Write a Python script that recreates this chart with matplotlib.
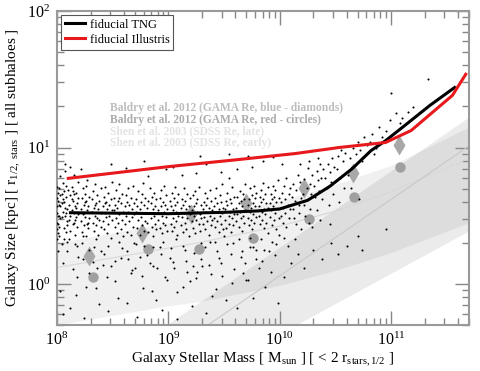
import numpy as np
import matplotlib
matplotlib.use("Agg")
import matplotlib.pyplot as plt

# all values, in log10(Msun) and log10(kpc)

# median size relations of the two fiducial runs
tng_logm = [8.12, 8.5, 9.0, 9.5, 9.8, 10.0, 10.25, 10.45, 10.65, 10.82, 10.95, 11.12, 11.35, 11.57]
tng_logr = [0.522, 0.519, 0.515, 0.525, 0.535, 0.55, 0.613, 0.716, 0.845, 0.978, 1.05, 1.16, 1.31, 1.44]

ill_logm = [8.10, 9.0, 9.63, 10.14, 10.53, 10.95, 11.18, 11.55, 11.67]
ill_logr = [0.774, 0.86, 0.912, 0.956, 1.0, 1.037, 1.125, 1.382, 1.537]

# Baldry et al. 2012
baldry_blue_logm = [8.29, 8.76, 9.20, 9.70, 10.22, 10.66, 11.07]
baldry_blue_logr = [0.206, 0.375, 0.515, 0.596, 0.70, 0.816, 1.015]
baldry_red_logm = [8.32, 8.82, 9.27, 9.76, 10.26, 10.67, 11.08]
baldry_red_logr = [0.051, 0.257, 0.257, 0.338, 0.478, 0.64, 0.86]

# Shen et al. 2003, late and early types (line + shaded band)
shen_late_logm = [8.0, 9.0, 9.28, 10.0, 10.5, 11.0, 11.7]
shen_late_logr = [0.12, 0.263, 0.304, 0.424, 0.534, 0.677, 0.921]
shen_late_up = [0.30, 0.45, 0.49, 0.61, 0.73, 0.87, 1.15]
shen_late_lo = [-0.30, -0.16, -0.13, -0.01, 0.10, 0.23, 0.45]

shen_early_logm = [9.0, 10.125, 11.7]
shen_early_logr = [-0.50, 0.13, 1.012]
shen_early_up = [-0.29, 0.34, 1.225]
shen_early_lo = [-0.82, -0.31, 0.39]

# individual subhaloes (log M in 0.01 dex, log r in 0.01 dex)
subhalo_pts = """
800 52 801 61 801 44 802 70 802 35 803 57 803 48 804 66 804 29 805 53 805 74 806 41 806 60 807 50
807 83 808 38 808 64 809 55 809 46 810 69 800 63 801 24 802 58 803 79 804 49 805 62 806 33 807 56
808 72 809 43 800 45 802 50 804 59 806 68 808 52 805 15 803 -5 807 88 809 31 801 37 800 57 800 40
801 67 801 50 800 71 800 33 802 42 803 65
811 58 811 47 812 65 812 39 813 54 813 71 814 44 814 61 815 52 815 80 816 36 816 57 817 49 817 67
818 42 818 59 819 75 819 51 811 33 813 62 815 45 817 56 819 63 812 50 814 68 816 47 818 28 814 11
817 -8 819 20 812 86 815 66
821 55 821 46 822 63 822 38 823 70 823 51 824 43 824 58 825 66 825 49 826 35 826 61 827 54 827 76
828 41 828 57 829 48 829 64 822 30 824 52 826 72 828 45 823 18 826 -2 829 25 821 84 825 60 827 44
831 53 831 62 832 45 832 68 833 39 833 56 834 50 834 73 835 43 835 59 836 65 836 48 837 36 837 55
838 61 838 47 839 70 839 52 833 27 836 12 838 -15 831 80 835 33 839 42 834 58
841 57 841 46 842 64 842 40 843 52 843 71 844 49 844 60 845 37 845 55 846 67 846 44 847 58 847 50
848 34 848 62 849 47 849 75 842 22 845 5 848 88 846 28 843 59 849 54
851 54 851 63 852 42 852 58 853 69 853 48 854 37 854 56 855 61 855 45 856 73 856 51 857 40 857 59
858 47 858 66 859 53 859 35 852 17 855 -10 858 26 854 82 856 63
861 57 861 44 862 65 862 50 863 38 863 60 864 53 864 70 865 46 865 58 866 36 866 63 867 49 867 55
868 72 868 42 869 59 869 51 863 24 866 8 869 30 862 85
871 53 871 62 872 41 872 57 873 68 873 47 874 55 874 36 875 60 875 49 876 66 876 43 877 52 877 74
878 39 878 58 879 46 879 63 874 20 877 -3 871 29 878 90
881 56 881 45 882 61 882 38 883 52 883 70 884 48 884 59 885 42 885 64 886 55 886 35 887 67 887 50
888 44 888 57 889 62 889 40 883 15 886 27 889 -12 882 79
891 54 891 47 892 63 892 41 893 57 893 69 894 50 894 37 895 60 895 45 896 53 896 72 897 43 897 58
898 49 898 65 899 39 899 55 893 22 897 5 895 31 898 84
901 52 901 61 902 44 902 57 903 67 903 39 904 54 904 48 905 63 905 42 906 58 906 71 907 46 907 53
908 36 908 60 909 50 909 66 902 26 905 12 908 -6 904 86
911 56 911 43 912 62 912 49 913 38 913 58 914 70 914 52 915 45 915 61 916 55 916 40 917 66 917 48
918 57 918 35 919 63 919 51 913 28 916 17 919 2 912 80
921 54 921 46 922 65 922 41 923 57 923 50 924 68 924 37 925 59 925 47 926 53 926 62 927 44 927 71
928 51 928 39 929 58 929 48 923 23 926 9 929 30 925 81 928 94
931 55 931 44 932 60 932 49 933 67 933 40 934 53 934 58 935 46 935 63 936 36 936 56 937 50 937 69
938 43 938 61 939 54 939 47 933 27 936 14 939 -9 934 88
941 57 941 48 942 63 942 42 943 53 943 70 944 46 944 59 945 38 945 55 946 65 946 50 947 44 947 60
948 52 948 73 949 40 949 56 942 31 945 19 948 6 947 82
951 55 951 47 952 61 952 41 953 58 953 67 954 50 954 44 955 62 955 53 956 38 956 59 957 71 957 48
958 55 958 43 959 64 959 51 953 29 956 22 959 11 954 78 954 95
961 56 961 46 962 64 962 51 963 42 963 59 964 68 964 53 965 48 965 61 966 39 966 57 967 66 967 50
968 45 968 62 969 54 969 73 963 33 966 24 969 15 962 84
971 58 971 48 972 62 972 43 973 53 973 70 974 56 974 47 975 65 975 40 976 59 976 51 977 72 977 45
978 57 978 63 979 49 979 67 973 34 976 27 979 18 975 86 971 94
981 57 981 50 982 64 982 44 983 60 983 69 984 53 984 47 985 62 985 74 986 55 986 41 987 66 987 51
988 59 988 45 989 71 989 56 983 33 986 25 989 37 985 90
991 59 991 49 992 66 992 54 993 43 993 62 994 72 994 57 995 47 995 64 996 52 996 69 997 40 997 60
998 55 998 76 999 48 999 63 993 31 996 21 999 36 994 93
1001 60 1001 50 1002 67 1003 56 1003 45 1004 72 1005 62 1005 52 1006 42 1006 78 1007 58 1008 66
1008 48 1009 55 1009 70 1004 34 1007 28 1002 88
1011 64 1012 55 1012 73 1013 48 1014 61 1015 69 1015 44 1016 80 1017 58 1017 52 1018 75 1019 63
1019 40 1014 33 1018 88
1021 66 1022 58 1022 77 1023 50 1024 70 1025 62 1025 85 1026 45 1027 73 1027 55 1028 66 1029 80
1029 42 1026 90
1031 72 1032 64 1033 83 1033 54 1034 76 1035 68 1036 88 1036 47 1037 78 1038 62 1039 84 1034 92
1041 78 1042 70 1043 88 1044 58 1045 82 1046 75 1047 92 1048 66 1049 86 1045 44
1051 84 1052 94 1054 78 1055 98 1057 90 1058 70 1059 96 1053 60
1061 80 1063 92 1065 86 1066 100 1068 95 1070 104 1072 98 1074 90 1076 108 1078 102 1064 70 1071 62
1081 104 1083 110 1086 100 1089 115 1092 108 1095 112 1099 120 1104 125 1108 118 1110 122 1115 126
1120 130 1085 95 1100 140 1133 150 1095 40 1074 25 1070 35 970 3
805 -22 812 -18 818 5 824 -25 829 8 835 -3 841 14 846 -20 852 2 857 19 863 -14 867 10 872 -24
876 6 881 21 885 -5 890 12 894 -19 899 3 904 16 908 -26 913 -2 917 9 921 -16 925 4 930 13 934 -21
938 7 943 -4 947 15 952 -12 957 1 962 -18 967 8 971 3 976 -10 981 12 987 -2 992 9 998 -14 1004 5
1010 15 1016 22 1022 12 1030 25 1038 18 1046 30 1052 22 1060 28
809 24 816 29 823 35 832 16 839 24 848 13 856 31 864 18 870 12 878 28 886 13 892 27 901 19 907 33
915 25 922 13 929 18 937 31 944 24 950 35 958 30 965 20 973 27 979 25 984 17 990 24 997 29
"""

legend_texts = ["Baldry et al. 2012 (GAMA Re, blue - diamonds)",
                "Baldry et al. 2012 (GAMA Re, red - circles)",
                "Shen et al. 2003 (SDSS Re, late)",
                "Shen et al. 2003 (SDSS Re, early)"]
legend_colors = ["#bdbdbd", "#ababab", "#e3e3e3", "#e3e3e3"]

plt.rcParams['font.family'] = 'serif'
plt.rcParams['font.serif'] = ['Liberation Serif', 'DejaVu Serif']
plt.rcParams['mathtext.fontset'] = 'custom'
plt.rcParams['mathtext.rm'] = 'Liberation Serif'
plt.rcParams['mathtext.it'] = 'Liberation Serif:italic'

def lin(v):
    return 10.0 ** np.asarray(v, dtype=float)

fig = plt.figure(figsize=(4.8, 3.71), dpi=100)
ax = fig.add_axes([0.119, 0.124, 0.858, 0.846])

# Shen bands
ax.fill_between(lin(shen_late_logm), lin(shen_late_lo), lin(shen_late_up),
                color='black', alpha=0.06, lw=0, zorder=1)
ax.fill_between(lin(shen_early_logm), lin(shen_early_lo), lin(shen_early_up),
                color='black', alpha=0.08, lw=0, zorder=1)
ax.plot(lin(shen_late_logm), lin(shen_late_logr), color='#d8d8d8', lw=0.8, zorder=2)
ax.plot(lin(shen_early_logm), lin(shen_early_logr), color='#c8c8c8', lw=0.8, zorder=2)

# Baldry points
ax.plot(lin(baldry_blue_logm), lin(baldry_blue_logr), 'd', color='#a8a8a8',
        ms=10, mec='none', zorder=3)
ax.plot(lin(baldry_red_logm), lin(baldry_red_logr), 'o', color='#a0a0a0',
        ms=7.5, mec='none', zorder=3)

# subhaloes
pts = np.array(subhalo_pts.split(), dtype=float).reshape(-1, 2) / 100.0
ax.scatter(lin(pts[:, 0]), lin(pts[:, 1]), s=2.2, color='black', lw=0, zorder=4)

# fiducial runs
l1, = ax.plot(lin(tng_logm), lin(tng_logr), color='black', lw=2.2, zorder=5, label='fiducial TNG')
l2, = ax.plot(lin(ill_logm), lin(ill_logr), color='#e8191c', lw=2.2, zorder=5, label='fiducial Illustris')

ax.set_xscale('log')
ax.set_yscale('log')
ax.set_xlim(1e8, 5e11)
ax.set_ylim(0.5, 100)

for i, (t, c) in enumerate(zip(legend_texts, legend_colors)):
    ax.text(0.129, 0.690 - i * 0.037, t, transform=ax.transAxes, color=c,
            fontsize=8.3, fontweight='bold', va='center', ha='left', zorder=6)

leg = ax.legend(handles=[l1, l2], loc='upper left', fontsize=9, frameon=True,
                fancybox=False, framealpha=1, edgecolor='#555555',
                borderaxespad=0.3, handlelength=1.6, handletextpad=0.4,
                borderpad=0.3, labelspacing=0.25)
leg.get_frame().set_linewidth(0.8)

for s in ax.spines.values():
    s.set_color('#999999')
    s.set_linewidth(1.5)
ax.tick_params(which='both', direction='in', top=True, right=True, color='#888888')
ax.tick_params(which='major', length=10, width=1, labelsize=11.5, pad=5)
ax.tick_params(which='minor', length=5, width=1)

ax.set_xlabel(r'Galaxy Stellar Mass [ M$_{\mathrm{sun}}$ ] [ < 2 r$_{\mathrm{stars,1/2}}$ ]',
              fontsize=11, labelpad=1)
ax.set_ylabel(r'Galaxy Size [kpc] [ r$_{\mathrm{1/2,\ stars}}$ ] [ all subhaloes ]',
              fontsize=11, labelpad=3)

fig.savefig('out.png', dpi=100)
